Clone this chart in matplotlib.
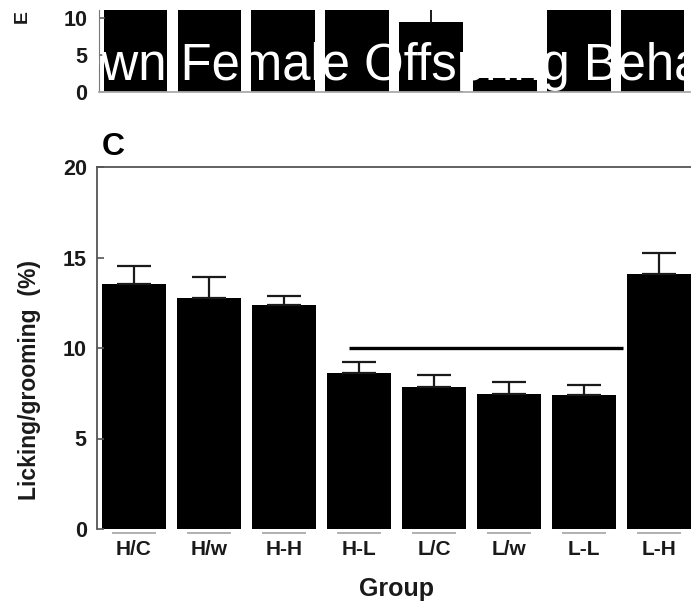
import matplotlib
matplotlib.use("Agg")
import matplotlib.pyplot as plt
import numpy as np

# ---- data ----
groups = ["H/C", "H/w", "H-H", "H-L", "L/C", "L/w", "L-L", "L-H"]
lick_mean = [13.55, 12.75, 12.4, 8.6, 7.85, 7.45, 7.4, 14.1]
lick_sem = [1.0, 1.15, 0.5, 0.6, 0.65, 0.65, 0.55, 1.15]

# panel above (only its bottom strip is visible)
upper_mean = [16.0, 15.0, 15.0, 14.5, 9.55, 1.9, 15.0, 15.5]
upper_sem = [0.0, 0.0, 0.0, 0.0, 2.2, 0.0, 0.0, 0.0]
upper_ticks = [0, 5, 10]
main_ticks = [0, 5, 10, 15, 20]

W, H = 691, 601
LABEL_FONT = ["Liberation Sans", "DejaVu Sans"]
INK = "#1a1a1a"

plt.rcParams["font.family"] = LABEL_FONT
fig = plt.figure(figsize=(W / 100, H / 100), dpi=100)


def box(left, top, right, bottom):
    """pixel box -> figure fraction rect"""
    return [left / W, 1 - bottom / H, (right - left) / W, (bottom - top) / H]


# ---- panel C ----
ax = fig.add_axes(box(96.5, 167, 696.5, 529))
x = np.arange(len(groups))
ax.bar(x, lick_mean, width=0.86, color="black",
       yerr=[np.zeros(len(x)), lick_sem],
       error_kw=dict(ecolor=INK, elinewidth=1.6, capsize=12, capthick=1.6))
ax.set_xlim(-0.5, len(groups) - 0.5)
ax.set_ylim(0, 20)
ax.set_yticks(main_ticks)
ax.set_xticks(x)
ax.set_xticklabels(groups, fontsize=15, fontweight="bold", color=INK)
ax.tick_params(axis="x", length=0, pad=8)
ax.tick_params(axis="y", direction="in", length=5, width=1.2, pad=7,
               labelsize=15.5, labelcolor=INK, colors="#555")
for t in ax.get_yticklabels():
    t.set_fontweight("bold")
for s in ["top", "left"]:
    ax.spines[s].set_color("#555")
    ax.spines[s].set_linewidth(1.3)
ax.spines["right"].set_visible(False)
ax.spines["bottom"].set_visible(False)
# faint baseline dashes under each bar
ax.hlines(np.full(len(x), -0.2), x - 0.29, x + 0.29, colors="#aaaaaa",
          linewidth=1.3, clip_on=False)
# significance bar over the low-LG groups
i0, i1 = groups.index("H-L"), groups.index("L-H")
ax.hlines(10.0, i0 - 0.13, i1 - 0.48, colors="black", linewidth=2.4)

ax.set_xlabel("Group", fontsize=18, fontweight="bold", color=INK, labelpad=13)
fig.text(30 / W, 1 - 380 / H, "Licking/grooming  (%)", rotation=90,
         ha="center", va="center", fontsize=16.5, fontweight="bold", color=INK)
fig.text(102 / W, 1 - 155 / H, "C", fontsize=23, fontweight="bold",
         color="black", ha="left", va="baseline")

# ---- clipped panel above ----
ax2 = fig.add_axes(box(98.5, 10, 689.6, 92))
ax2.bar(x, upper_mean, width=0.86, color="black",
        yerr=[np.zeros(len(x)), upper_sem],
        error_kw=dict(ecolor=INK, elinewidth=1.4, capsize=0))
ax2.set_xlim(-0.5, len(groups) - 0.5)
ax2.set_ylim(0, 11.15)
ax2.set_yticks(upper_ticks)
ax2.set_xticks([])
ax2.tick_params(axis="y", direction="in", length=4, width=1.1, pad=8,
                labelsize=15.5, labelcolor=INK, colors="#555")
for t in ax2.get_yticklabels():
    t.set_fontweight("bold")
for s in ["top", "right"]:
    ax2.spines[s].set_visible(False)
ax2.spines["left"].set_color("#777")
ax2.spines["bottom"].set_color("#aaaaaa")
ax2.spines["bottom"].set_linewidth(1.3)
fig.text(22 / W, 1 - 23 / H, "E", rotation=90, ha="center", va="bottom",
         fontsize=14, fontweight="bold", color=INK)

# ---- white overlay title ----
fig.text(62 / W, 1 - 80 / H, "Own Female Offspring Behavior", color="white",
         fontsize=36.6, family=LABEL_FONT, ha="left", va="baseline", zorder=20)

fig.savefig("out.png", dpi=100, facecolor="white")
